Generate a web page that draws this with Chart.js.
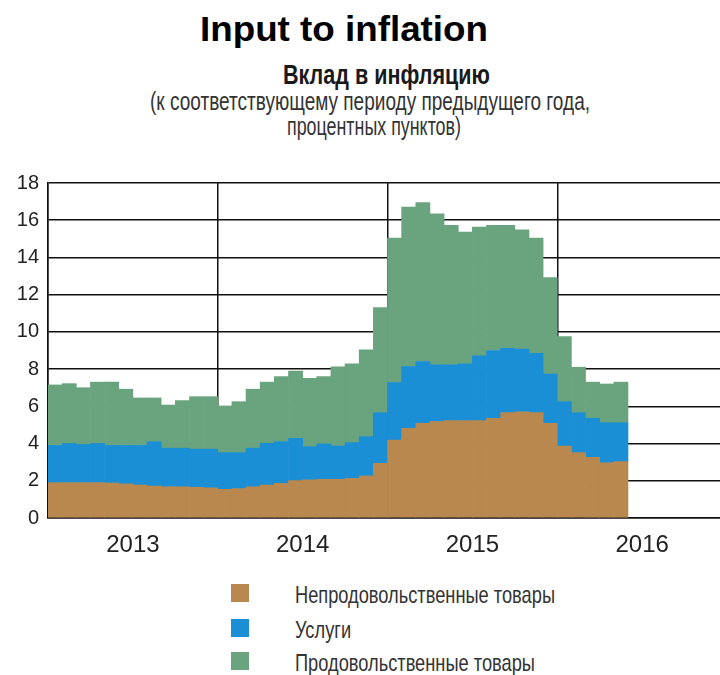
<!DOCTYPE html>
<html>
<head>
<meta charset="utf-8">
<script src="https://cdn.jsdelivr.net/npm/chart.js@4"></script>
<style>
  html, body { margin: 0; padding: 0; background: #fff; overflow: hidden; }
  body { width: 720px; height: 675px; position: relative; font-family: "Liberation Sans", Arial, sans-serif; }
  .t { position: absolute; white-space: nowrap; transform-origin: 0 0; }
  #title { font-weight: bold; font-size: 35px; line-height: 35px; color: #000; }
  #sub { font-weight: bold; font-size: 28px; line-height: 28px; color: #1a1a1a; }
  #note1, #note2 { font-size: 25px; line-height: 25px; color: #333; }
  #wrap { position: absolute; left: 0; top: 150px; width: 740px; height: 420px; }
  .leg { font-size: 24px; line-height: 24px; color: #333; }
  .box { position: absolute; left: 231px; width: 18px; height: 18px; }
</style>
</head>
<body>
<div class="t" id="title">Input to inflation</div>
<div class="t" id="sub">Вклад в инфляцию</div>
<div class="t" id="note1">(к соответствующему периоду предыдущего года,</div>
<div class="t" id="note2">процентных пунктов)</div>
<div id="wrap"><canvas id="inflChart"></canvas></div>
<script>
// years and months (Jan 2013 - Dec 2016)
const years = ['2013', '2014', '2015', '2016'];
const months = [];
years.forEach(function (y) {
    for (let m = 1; m <= 12; m++) months.push(y + '-' + m);
});

const seriesNames = ['Непродовольственные товары', 'Услуги', 'Продовольственные товары'];
const seriesColors = ['#b8884f', '#1b8fd6', '#6aa47f'];

// contributions, percentage points
const nonFood = [
    1.90, 1.90, 1.90, 1.90, 1.88, 1.83, 1.77, 1.72, 1.68, 1.68, 1.65, 1.62,
    1.54, 1.58, 1.68, 1.77, 1.86, 2.01, 2.05, 2.08, 2.08, 2.13, 2.26, 2.94,
    4.19, 4.82, 5.09, 5.18, 5.23, 5.23, 5.23, 5.36, 5.66, 5.71, 5.66, 5.09,
    3.87, 3.51, 3.26, 2.97, 3.03, null, null, null, null, null, null, null
];
const services = [
    2.00, 2.10, 2.05, 2.10, 2.02, 2.07, 2.13, 2.38, 2.07, 2.07, 2.05, 2.08,
    1.97, 1.93, 2.07, 2.24, 2.24, 2.27, 1.78, 1.90, 1.79, 1.92, 2.11, 2.72,
    3.09, 3.32, 3.32, 3.05, 3.00, 3.05, 3.48, 3.64, 3.46, 3.36, 3.19, 2.65,
    2.38, 2.15, 2.10, 2.15, 2.09, null, null, null, null, null, null, null
];
const food = [
    3.25, 3.22, 3.05, 3.30, 3.40, 3.02, 2.55, 2.35, 2.32, 2.56, 2.82, 2.82,
    2.51, 2.74, 3.17, 3.29, 3.50, 3.62, 3.67, 3.62, 4.25, 4.23, 4.66, 5.64,
    7.76, 8.56, 8.54, 8.11, 7.50, 7.08, 6.92, 6.72, 6.60, 6.41, 6.19, 5.18,
    3.50, 2.44, 1.94, 2.08, 2.18, null, null, null, null, null, null, null
];

const sans = '"Liberation Sans", Arial, sans-serif';
const seriesData = [nonFood, services, food];

const ctx = document.getElementById('inflChart').getContext('2d');
const inflChart = new Chart(ctx, {
    type: 'bar',
    data: {
        labels: months,
        datasets: seriesNames.map(function (name, i) {
            return {
                label: name,
                data: seriesData[i],
                backgroundColor: seriesColors[i],
                borderWidth: 0,
                xAxisID: 'x',
                barPercentage: 1,
                categoryPercentage: 1
            };
        })
    },
    options: {
        responsive: true,
        maintainAspectRatio: false,
        animation: false,
        layout: { padding: { top: 33, right: 13, left: 0, bottom: 0 } },
        plugins: {
            legend: { display: false },
            tooltip: { enabled: false }
        },
        scales: {
            x: {
                stacked: true,
                z: 1,
                ticks: { display: false },
                grid: {
                    drawTicks: false,
                    lineWidth: 1.5,
                    color: function (c) {
                        return (c.index === undefined || c.index % 12 === 0) ? '#111' : 'rgba(0,0,0,0)';
                    }
                },
                border: { color: '#111', width: 1.5 },
                afterFit: function (s) { s.height = 0; }
            },
            years: {
                type: 'category',
                position: 'bottom',
                labels: years,
                offset: true,
                grid: { display: false, drawTicks: false },
                border: { display: false },
                ticks: { color: '#222', padding: 13, font: { family: sans, size: 24 } },
                afterFit: function (s) { s.height = 52; }
            },
            y: {
                stacked: true,
                min: 0,
                max: 18,
                ticks: {
                    stepSize: 2,
                    color: '#222',
                    padding: 9,
                    font: { family: sans, size: 20 }
                },
                grid: { color: '#111', lineWidth: 1.5, drawTicks: false },
                border: { color: '#111', width: 1.5 },
                afterFit: function (s) { s.width = 48; }
            }
        }
    }
});

// squeeze a text line to a given width around a centre (the original uses a condensed face)
function fitText(el, cx, width, top) {
    const w = el.getBoundingClientRect().width;
    el.style.left = (cx - width / 2) + 'px';
    el.style.top = top + 'px';
    el.style.transform = 'scaleX(' + (width / w) + ')';
}
fitText(document.getElementById('title'), 344, 288, 11);
fitText(document.getElementById('sub'), 386, 207, 61);
fitText(document.getElementById('note1'), 370, 440, 89);
fitText(document.getElementById('note2'), 374, 174, 114);

// vertical legend list under the chart
const legendTops = [583, 618, 651];
let legScale = 1;
seriesNames.forEach(function (name, i) {
    const box = document.createElement('div');
    box.className = 'box';
    box.style.background = seriesColors[i];
    box.style.top = (legendTops[i] + 1) + 'px';
    document.body.appendChild(box);
    const txt = document.createElement('div');
    txt.className = 't leg';
    txt.textContent = name;
    document.body.appendChild(txt);
    if (i === 0) legScale = 260 / txt.getBoundingClientRect().width;
    txt.style.left = '295px';
    txt.style.top = legendTops[i] + 'px';
    txt.style.transform = 'scaleX(' + legScale + ')';
});
</script>
</body>
</html>
